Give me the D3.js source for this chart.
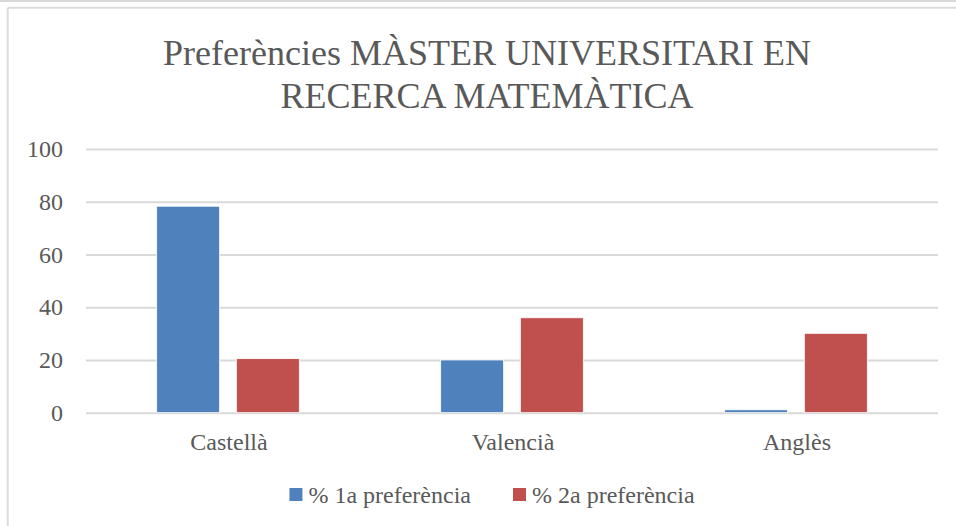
<!DOCTYPE html>
<html>
<head>
<meta charset="utf-8">
<script src="https://cdn.jsdelivr.net/npm/d3@7"></script>
<style>
  body { margin: 0; background: #fff; }
  text { font-family: "Liberation Serif", "DejaVu Serif", serif; fill: #595959; }
</style>
</head>
<body>
<div id="chart"></div>
<script>
const width = 956,
height = 526,
margin = ({ top: 149, right: 18, bottom: 114, left: 86 });

// data
const categories = ["Castellà", "Valencià", "Anglès"];
const seriesNames = ["% 1a preferència", "% 2a preferència"];
const firstPref = [78.3, 20.0, 1.1];
const secondPref = [20.5, 36.0, 30.1];
const yTicks = [0, 20, 40, 60, 80, 100];
const titleLines = ["Preferències MÀSTER UNIVERSITARI EN", "RECERCA MATEMÀTICA"];
const colors = ["#4F81BD", "#C0504D"];

const values = [firstPref, secondPref];
const rows = categories.map((c, i) => ({ cat: c, vals: values.map((v, s) => ({ s, v: v[i] })) }));

const svg = d3.select("#chart")
    .append("svg")
    .attr("width", width)
    .attr("height", height);

svg.append("rect").attr("width", width).attr("height", height).attr("fill", "#fff");

// outer frame bits visible in the screenshot
svg.append("line").attr("x1", 0).attr("x2", width).attr("y1", 1).attr("y2", 1)
    .attr("stroke", "#d9d9d9").attr("stroke-width", 2);
svg.append("line").attr("x1", 7.7).attr("x2", width).attr("y1", 7.7).attr("y2", 7.7)
    .attr("stroke", "#dcdcdc").attr("stroke-width", 2);
svg.append("line").attr("x1", 7.7).attr("x2", 7.7).attr("y1", 7.7).attr("y2", height)
    .attr("stroke", "#dcdcdc").attr("stroke-width", 2);

let x = d3.scaleBand()
    .domain(categories)
    .range([margin.left, width - margin.right])
    .padding(0);

let x1 = d3.scaleBand()
    .domain(d3.range(seriesNames.length))
    .range([0, x.bandwidth()])
    .paddingInner(0.21)
    .paddingOuter(0.887);

let y = d3.scaleLinear()
    .domain([0, 100])
    .range([height - margin.bottom + 0.7, margin.top]);

// gridlines + tick labels
svg.append("g")
    .attr("transform", `translate(${margin.left},0)`)
    .call(d3.axisLeft(y)
        .tickValues(yTicks)
        .tickSize(-(width - margin.right - margin.left))
        .tickPadding(23))
    .call(g => g.select(".domain").remove())
    .call(g => g.selectAll(".tick line").attr("stroke", "#d9d9d9").attr("stroke-width", 2))
    .call(g => g.selectAll(".tick text")
        .attr("font-size", 24)
        .attr("fill", "#595959"));

// bars
let groups = svg.append("g")
    .selectAll("g")
    .data(rows)
    .join("g")
    .attr("transform", d => `translate(${x(d.cat)},0)`);

groups.selectAll("rect")
    .data(d => d.vals)
    .join("rect")
    .attr("x", d => x1(d.s))
    .attr("width", x1.bandwidth())
    .attr("y", d => y(d.v))
    .attr("height", d => y(0) - y(d.v))
    .attr("fill", d => colors[d.s])
    .attr("stroke", "#fff")
    .attr("stroke-width", 0.8);

// category labels
svg.append("g")
    .selectAll("text")
    .data(categories)
    .join("text")
    .attr("x", d => x(d) + x.bandwidth() / 2 + 1)
    .attr("y", 450)
    .attr("text-anchor", "middle")
    .attr("font-size", 24)
    .text(d => d);

// title
svg.append("g")
    .selectAll("text")
    .data(titleLines)
    .join("text")
    .attr("x", 487)
    .attr("y", (d, i) => 65 + i * 43)
    .attr("text-anchor", "middle")
    .attr("font-size", 36)
    .text(d => d);

// legend, centred under the plot
let legend = svg.append("g");
let items = legend.selectAll("g")
    .data(seriesNames)
    .join("g");

items.append("rect")
    .attr("width", 13)
    .attr("height", 13)
    .attr("y", 488)
    .attr("fill", (d, i) => colors[i]);

items.append("text")
    .attr("x", 19)
    .attr("y", 503)
    .attr("font-size", 24)
    .text(d => d);

let gap = 42;
let offset = 0;
let positions = [];
items.each(function () {
    positions.push(offset);
    let w = 19 + d3.select(this).select("text").node().getComputedTextLength();
    offset += w + gap;
});
let total = offset - gap;
items.attr("transform", (d, i) => `translate(${492 - total / 2 + positions[i]},0)`);
</script>
</body>
</html>
